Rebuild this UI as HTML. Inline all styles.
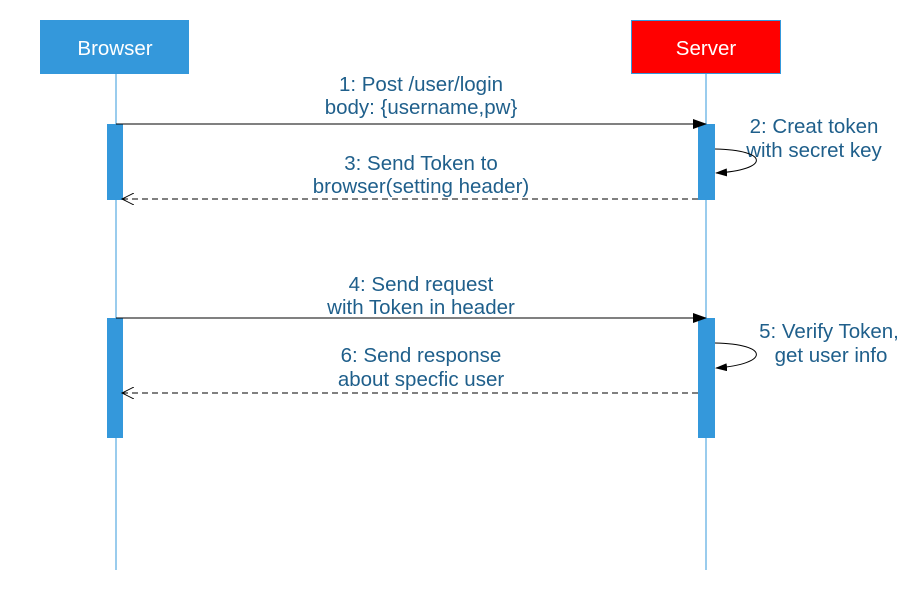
<!DOCTYPE html>
<html><head><meta charset="utf-8"><style>html,body{margin:0;padding:0;background:#fff}svg{display:block}</style></head>
<body>
<svg width="920" height="592" viewBox="0 0 920 592" xmlns="http://www.w3.org/2000/svg" font-family="Liberation Sans, sans-serif" font-size="20.5">
<defs>
<marker id="fa" markerWidth="14" markerHeight="10" refX="13" refY="5" orient="auto" markerUnits="userSpaceOnUse"><path d="M0,0 L14,5 L0,10 z" fill="#000"/></marker>
<marker id="oa" markerWidth="14" markerHeight="12" refX="12" refY="6" orient="auto" markerUnits="userSpaceOnUse"><path d="M0,0 L12,6 L0,12" fill="none" stroke="#000" stroke-width="1"/></marker>
<marker id="sa" markerWidth="12" markerHeight="8" refX="11" refY="4" orient="auto" markerUnits="userSpaceOnUse"><path d="M0,0 L12,4 L0,8 z" fill="#000"/></marker>
</defs>
<line x1="116" y1="74" x2="116" y2="570" stroke="#3498db" stroke-width="1"/>
<line x1="706" y1="74" x2="706" y2="570" stroke="#3498db" stroke-width="1"/>
<rect x="40" y="20" width="149" height="54" fill="#3498db"/>
<text x="115" y="55" fill="#fff" text-anchor="middle">Browser</text>
<rect x="631.5" y="20.5" width="149" height="53" fill="#ff0000" stroke="#3498db" stroke-width="1"/>
<text x="706" y="55" fill="#fff" text-anchor="middle">Server</text>
<rect x="107" y="124" width="16" height="76" fill="#3498db"/>
<rect x="698" y="124" width="17" height="76" fill="#3498db"/>
<rect x="107" y="318" width="16" height="120" fill="#3498db"/>
<rect x="698" y="318" width="17" height="120" fill="#3498db"/>
<g fill="#1f5f8b" text-anchor="middle">
<text x="421" y="91">1: Post /user/login</text>
<text x="421" y="114">body: {username,pw}</text>
<text x="421" y="170">3: Send Token to</text>
<text x="421" y="193">browser(setting header)</text>
<text x="421" y="291">4: Send request</text>
<text x="421" y="314">with Token in header</text>
<text x="421" y="362">6: Send response</text>
<text x="421" y="386">about specfic user</text>
<text x="814" y="133">2: Creat token</text>
<text x="814" y="157">with secret key</text>
<text x="829" y="338">5: Verify Token,</text>
<text x="831" y="362">get user info</text>
</g>
<line x1="116" y1="124" x2="706" y2="124" stroke="#000" marker-end="url(#fa)"/>
<line x1="698" y1="199" x2="122" y2="199" stroke="#000" stroke-dasharray="6,4" marker-end="url(#oa)"/>
<line x1="116" y1="318" x2="706" y2="318" stroke="#000" marker-end="url(#fa)"/>
<line x1="698" y1="393" x2="122" y2="393" stroke="#000" stroke-dasharray="6,4" marker-end="url(#oa)"/>
<path d="M715,149 C770,150 770,170 716,173" fill="none" stroke="#000" marker-end="url(#sa)"/>
<path d="M715,343 C770,344 770,364 716,368" fill="none" stroke="#000" marker-end="url(#sa)"/>
</svg>
</body></html>
